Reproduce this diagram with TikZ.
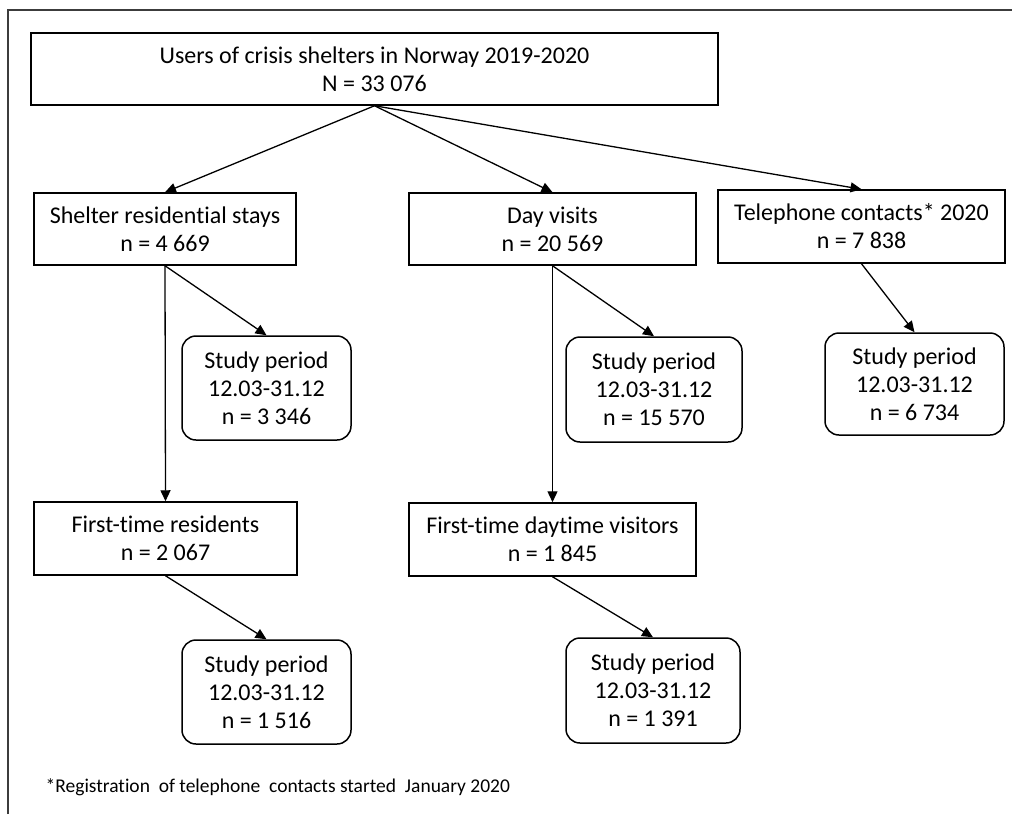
\documentclass[tikz,border=0pt]{standalone}
\usepackage{fontspec}
\setmainfont{Carlito}[Ligatures=NoCommon]
\usetikzlibrary{positioning}
\usetikzlibrary{arrows.meta}

\begin{document}
\begin{tikzpicture}[x=1pt,y=-1pt,->,>={Triangle[length=11pt,width=10pt]},
	line width=1.3pt,
	box/.style={rectangle,draw,line width=1.5pt,align=center,inner sep=0pt,
		font=\fontsize{24}{28}\selectfont},
	period box/.style={box,rounded corners=14pt}]
	
	\definecolor{frame}{RGB}{60,60,60}
	
	\useasboundingbox (0,0) rectangle (1012,814);
	\draw[-,frame,line width=1.5pt] (8,814) -- (8,10) -- (1012,10);
	
	\node[box, minimum width=687pt, minimum height=72pt] (users) at (374.5,69) {Users of crisis shelters in Norway 2019-2020\\N = 33 076};
	
	\node[box, minimum width=262pt, minimum height=72pt] (stays) at (165,229) {Shelter residential stays\\n = 4 669};
	\node[box, minimum width=287pt, minimum height=72pt] (visits) at (552.5,229) {Day visits\\n = 20 569};
	\node[box, minimum width=287pt, minimum height=73pt] (phone) at (861.5,226.5) {Telephone contacts* 2020\\n = 7 838};
	
	\node[period box, minimum width=169pt, minimum height=104pt] (staysperiod) at (266.5,388) {Study period\\12.03-31.12\\n = 3 346};
	\node[period box, minimum width=176pt, minimum height=105pt] (visitsperiod) at (654,389.5) {Study period\\12.03-31.12\\n = 15 570};
	\node[period box, minimum width=179pt, minimum height=102pt] (phoneperiod) at (914.5,384) {Study period\\12.03-31.12\\n = 6 734};
	
	\node[box, minimum width=263pt, minimum height=73pt] (firstres) at (165.5,538.5) {First-time residents\\n = 2 067};
	\node[box, minimum width=287pt, minimum height=73pt] (firstvis) at (552.5,539.5) {First-time daytime visitors\\n = 1 845};
	
	\node[period box, minimum width=169pt, minimum height=104pt] (firstresperiod) at (266.5,692) {Study period\\12.03-31.12\\n = 1 516};
	\node[period box, minimum width=174pt, minimum height=105pt] (firstvisperiod) at (653,690.5) {Study period\\12.03-31.12\\n = 1 391};
	
	\node[anchor=west, inner sep=0pt, font=\fontsize{19.5}{23}\selectfont] (note) at (45,787) {*Registration\ \ of telephone\ \ contacts started\ \ January 2020};
	
	\path
	(users.south) edge (stays.north)
	(users.south) edge (visits.north)
	(users.south) edge (phone.north)
	(stays.south) edge (staysperiod.north)
	(stays.south) edge (firstres.north)
	(visits.south) edge (visitsperiod.north)
	(visits.south) edge (firstvis.north)
	(phone.south) edge (phoneperiod.north)
	(firstres.south) edge (firstresperiod.north)
	(firstvis.south) edge (firstvisperiod.north);
\end{tikzpicture}
\end{document}
